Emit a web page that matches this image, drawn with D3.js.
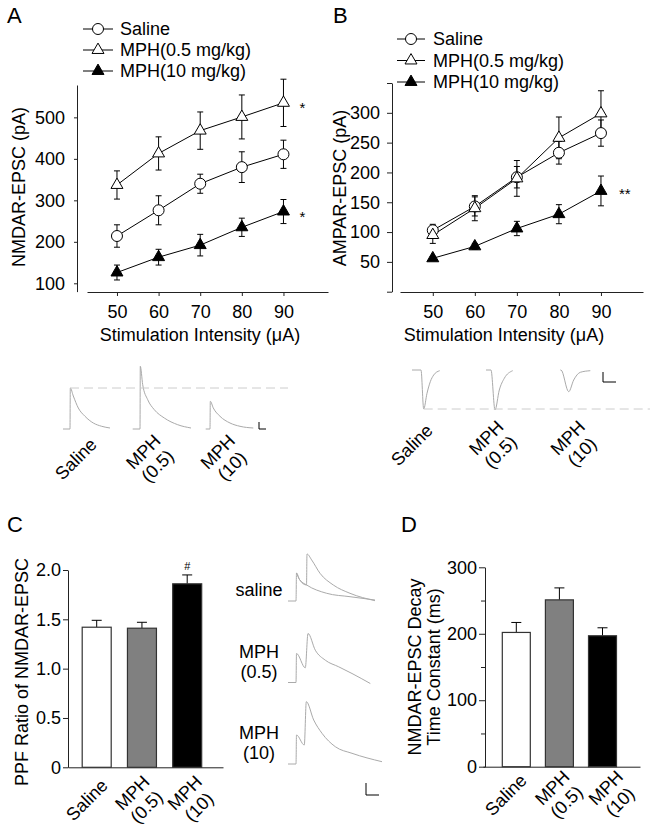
<!DOCTYPE html>
<html lang="en">
<head>
<meta charset="UTF-8">
<title>NMDAR and AMPAR EPSC</title>
<script src="https://d3js.org/d3.v7.min.js"></script>
<style>
  body { margin: 0; background: #fff; }
  svg { display: block; }
  text { font-family: "Liberation Sans", Arial, sans-serif; font-size: 18px; fill: #000; }
  .axis path, .axis line { stroke: #222; stroke-width: 1px; }
  .axis text { font-size: 18px; font-family: "Liberation Sans", Arial, sans-serif; }
  .trace { fill: none; stroke: #aaa; stroke-width: 1px; }
  .letter { font-size: 22px; }
</style>
</head>
<body>
<svg width="650" height="828"></svg>
<script>
// ---- data ----
var intensities = [50, 60, 70, 80, 90];
var groupNames = ["Saline", "MPH(0.5 mg/kg)", "MPH(10 mg/kg)"];

var nmdaSaline = [214, 276, 340, 380, 411];
var nmdaSalineErr = [27, 35, 23, 37, 34];
var nmdaLow = [337, 413, 468, 501, 535];
var nmdaLowErr = [34, 40, 45, 53, 57];
var nmdaHigh = [126, 163, 192, 235, 273];
var nmdaHighErr = [18, 19, 26, 22, 29];
var nmdaTicks = [100, 200, 300, 400, 500];

var ampaSaline = [103, 143, 192, 233, 266];
var ampaSalineErr = [10, 16, 18, 19, 22];
var ampaLow = [95, 140, 190, 258, 299];
var ampaLowErr = [14, 21, 30, 35, 38];
var ampaHigh = [56, 76, 106, 130, 169];
var ampaHighErr = [3, 5, 12, 16, 25];
var ampaTicks = [0, 50, 100, 150, 200, 250, 300, 350];

var barGroups = ["Saline", "MPH\n(0.5)", "MPH\n(10)"];
var ppf = [1.42, 1.41, 1.86];
var ppfErr = [0.07, 0.06, 0.09];
var ppfTicks = [0, 0.5, 1.0, 1.5, 2.0];
var decayTau = [202, 251, 197];
var decayErr = [15, 18, 12];
var decayMajor = [0, 100, 200, 300];
var decayMinor = [50, 150, 250];

// example traces, [time ms, current pA], time 0 = stimulus
var nmdaTraceSaline = [[-70, 0], [0, 0], [3, 410], [33, 330], [83, 210], [150, 127], [233, 60], [317, 27], [400, 10]];
var nmdaTraceLow = [[-73, 0], [0, 0], [3, 627], [27, 443], [77, 293], [143, 193], [243, 110], [377, 43], [510, 10]];
var nmdaTraceHigh = [[-43, 0], [0, 0], [3, 277], [33, 210], [100, 127], [200, 60], [300, 27], [433, 10]];
var nmdaScaleBar = [70, 70];

var ampaTraceSaline = [[-90, 0], [0, 0], [27, -390], [60, -233], [93, -117], [127, -50], [187, -7]];
var ampaTraceLow = [[-50, 0], [0, 0], [40, -400], [83, -200], [133, -83], [217, -7]];
var ampaTraceHigh = [[-7, 0], [0, 0], [77, -217], [127, -100], [193, -23], [293, -7]];
var ampaScaleBar = [130, 100];

var ppfTraceSaline = [[-80, 0], [0, 0], [5, 280], [35, 215], [105, 160], [110, 470], [157, 410], [240, 277], [373, 160], [540, 77], [790, 3]];
var ppfTraceSalineSingle = [[5, 280], [35, 215], [107, 160], [307, 77], [540, 43], [790, 10]];
var ppfTraceLow = [[-80, 0], [0, 0], [5, 290], [93, 147], [120, 490], [193, 323], [293, 223], [427, 157], [560, 90], [743, -10]];
var ppfTraceHigh = [[-80, 0], [0, 0], [5, 290], [83, 190], [103, 623], [177, 440], [260, 307], [393, 173], [560, 107], [860, 23]];
var ppfTraceNames = ["saline", "MPH\n(0.5)", "MPH\n(10)"];
var ppfScaleBar = [130, 120];

var markerKinds = ["circle", "open", "filled"];
var barFills = ["#fff", "#808080", "#000"];

var svg = d3.select("svg");

// ---- helpers ----
function marker(sel, kind) {
  if (kind === "circle") {
    sel.append("circle").attr("r", 5.5).attr("fill", "#fff").attr("stroke", "#000");
  } else {
    sel.append("path")
      .attr("d", d3.symbol().type(d3.symbolTriangle).size(62))
      .attr("fill", kind === "filled" ? "#000" : "#fff")
      .attr("stroke", "#000");
  }
}

function linePanel(x, y, means, errs) {
  var series = means.map(function (m, k) {
    return intensities.map(function (v, i) { return { x: v, m: m[i], e: errs[k][i] }; });
  });
  var g = svg.append("g");
  series.forEach(function (pts) {
    g.append("path").datum(pts)
      .attr("fill", "none").attr("stroke", "#000")
      .attr("d", d3.line().x(d => x(d.x)).y(d => y(d.m)));
    var eb = g.append("g").attr("stroke", "#000").selectAll("g").data(pts).join("g");
    eb.append("line").attr("x1", d => x(d.x)).attr("x2", d => x(d.x))
      .attr("y1", d => y(d.m - d.e)).attr("y2", d => y(d.m + d.e));
    [-1, 1].forEach(function (s) {
      eb.append("line").attr("x1", d => x(d.x) - 3).attr("x2", d => x(d.x) + 3)
        .attr("y1", d => y(d.m + s * d.e)).attr("y2", d => y(d.m + s * d.e));
    });
  });
  series.forEach(function (pts, k) {
    g.append("g").selectAll("g").data(pts).join("g")
      .attr("transform", d => "translate(" + x(d.x) + "," + y(d.m) + ")")
      .each(function () { marker(d3.select(this), markerKinds[k]); });
  });
}

function legend(x0, x1, tx, rows) {
  groupNames.forEach(function (name, k) {
    var yy = rows(name);
    svg.append("line").attr("x1", x0).attr("x2", x1).attr("y1", yy).attr("y2", yy).attr("stroke", "#000");
    var g = svg.append("g").attr("transform", "translate(" + (x0 + x1) / 2 + "," + yy + ")");
    marker(g, markerKinds[k]);
    svg.append("text").attr("x", tx).attr("y", yy).attr("dy", "0.36em").text(name);
  });
}

function rotLabel(x, y, label) {
  var lines = label.split("\n");
  var t = svg.append("text").attr("text-anchor", "middle")
    .attr("transform", "translate(" + x + "," + y + ") rotate(-45)");
  lines.forEach(function (l, i) {
    t.append("tspan").attr("x", 0).attr("y", (i - (lines.length - 1) / 2) * 20 + 6).text(l);
  });
}

function trace(data, t, a, color) {
  svg.append("path").datum(data).attr("class", "trace").attr("stroke", color || "#aaa")
    .attr("d", d3.line().x(d => t(d[0])).y(d => a(d[1])).curve(d3.curveMonotoneX));
}

function scaleBar(t, a, len) {
  var t0 = t.domain()[0], a0 = a.domain()[0];
  svg.append("path").attr("fill", "none").attr("stroke", "#000")
    .attr("d", "M" + t(t0) + "," + a(a0 + len[1]) + "V" + a(a0) + "H" + t(t0 + len[0]));
}

function yTitle(x, y, lines) {
  var t = svg.append("text").attr("text-anchor", "middle")
    .attr("transform", "translate(" + x + "," + y + ") rotate(-90)");
  lines.forEach(function (l, i) {
    t.append("tspan").attr("x", 0).attr("y", (i - (lines.length - 1) / 2) * 19 + 6).text(l);
  });
}

// ---- panel A ----
var xA = d3.scaleLinear().domain([42.8, 100.7]).range([87, 328]);
var yA = d3.scaleLinear().domain([80, 578]).range([291.6, 85]);
svg.append("g").attr("class", "axis").attr("transform", "translate(77,0)")
  .call(d3.axisLeft(yA).tickValues(nmdaTicks).tickSize(3).tickPadding(9).tickSizeOuter(0));
svg.append("g").attr("class", "axis").attr("transform", "translate(0,292)")
  .call(d3.axisBottom(xA).tickValues(intensities).tickSize(4).tickPadding(9).tickSizeOuter(0));
linePanel(xA, yA, [nmdaSaline, nmdaLow, nmdaHigh], [nmdaSalineErr, nmdaLowErr, nmdaHighErr]);
legend(83, 113, 120, d3.scalePoint().domain(groupNames).range([29, 71]));
svg.append("text").attr("x", xA(90) + 16).attr("y", yA(nmdaLow[4]) + 10).style("font-size", "15px").text("*");
svg.append("text").attr("x", xA(90) + 16).attr("y", yA(nmdaHigh[4]) + 10).style("font-size", "15px").text("*");
yTitle(19, 187, ["NMDAR-EPSC (pA)"]);
svg.append("text").attr("x", 200).attr("y", 341).attr("text-anchor", "middle").text("Stimulation Intensity (\u03bcA)");
svg.append("text").attr("class", "letter").attr("x", 7).attr("y", 23).text("A");

// panel A traces
var riseA = d3.scalePoint().domain(barGroups).range([70, 210]);
var ampA = d3.scaleLinear().domain([0, 1000]).range([429, 329]);
[nmdaTraceSaline, nmdaTraceLow, nmdaTraceHigh].forEach(function (tr, i) {
  var r = riseA(barGroups[i]);
  trace(tr, d3.scaleLinear().domain([0, 1000]).range([r, r + 100]), ampA);
});
svg.append("line").attr("x1", riseA(barGroups[0])).attr("x2", 288)
  .attr("y1", ampA(nmdaTraceSaline[2][1])).attr("y2", ampA(nmdaTraceSaline[2][1]))
  .attr("stroke", "#ccc").attr("stroke-dasharray", "9,5");
scaleBar(d3.scaleLinear().domain([0, 1000]).range([259, 359]), ampA, nmdaScaleBar);
var labA = d3.scalePoint().domain(barGroups).range([76, 225]);
barGroups.forEach(function (g) { rotLabel(labA(g), 459, g); });

// ---- panel B ----
var xB = d3.scaleLinear().domain([42.2, 100]).range([400, 643]);
var yB = d3.scaleLinear().domain([0, 350]).range([291.7, 83]);
svg.append("g").attr("class", "axis").attr("transform", "translate(392,0)")
  .call(d3.axisLeft(yB).tickValues(ampaTicks).tickSize(5).tickPadding(7).tickSizeOuter(0)
    .tickFormat(d => (d === 0 || d === 350) ? "" : d));
svg.append("g").attr("class", "axis").attr("transform", "translate(0,292)")
  .call(d3.axisBottom(xB).tickValues(intensities).tickSize(4).tickPadding(9).tickSizeOuter(0));
linePanel(xB, yB, [ampaSaline, ampaLow, ampaHigh], [ampaSalineErr, ampaLowErr, ampaHighErr]);
legend(397, 425, 433, d3.scalePoint().domain(groupNames).range([39, 82]));
svg.append("text").attr("x", xB(90) + 18).attr("y", yB(ampaHigh[4]) + 8).style("font-size", "15px").text("**");
yTitle(340, 188, ["AMPAR-EPSC (pA)"]);
svg.append("text").attr("x", 504).attr("y", 341).attr("text-anchor", "middle").text("Stimulation Intensity (\u03bcA)");
svg.append("text").attr("class", "letter").attr("x", 333).attr("y", 23).text("B");

// panel B traces
var riseB = d3.scalePoint().domain(barGroups).range([421, 561]);
var ampB = d3.scaleLinear().domain([0, 1000]).range([370, 270]);
[ampaTraceSaline, ampaTraceLow, ampaTraceHigh].forEach(function (tr, i) {
  var r = riseB(barGroups[i]);
  trace(tr, d3.scaleLinear().domain([0, 1000]).range([r, r + 100]), ampB, "#b5b5b5");
});
var minB = ampaTraceSaline[2];
svg.append("line").attr("x1", riseB(barGroups[0]) + minB[0] / 10).attr("x2", 650)
  .attr("y1", ampB(minB[1])).attr("y2", ampB(minB[1]))
  .attr("stroke", "#ccc").attr("stroke-dasharray", "9,5");
var ampBbar = d3.scaleLinear().domain([0, 1000]).range([382, 282]);
scaleBar(d3.scaleLinear().domain([0, 1000]).range([603, 703]), ampBbar, ampaScaleBar);
var labB = d3.scalePoint().domain(barGroups).range([412, 575]);
barGroups.forEach(function (g) { rotLabel(labB(g), 445, g); });

// ---- panel C ----
var yC = d3.scaleLinear().domain([0, 2]).range([767.3, 570]);
var xC = d3.scalePoint().domain(barGroups).range([96.7, 187.2]);
svg.append("g").attr("class", "axis").attr("transform", "translate(68,0)")
  .call(d3.axisLeft(yC).tickValues(ppfTicks).tickSize(5).tickPadding(2).tickSizeOuter(0)
    .tickFormat(d => d === 0 ? "0" : d3.format(".1f")(d)));
svg.append("g").attr("class", "axis").attr("transform", "translate(0,767.3)")
  .call(d3.axisBottom(d3.scaleLinear().range([68, 223])).tickValues([]).tickSizeOuter(0));

function bars(x, y, vals, errs, bw) {
  var g = svg.append("g");
  g.selectAll("line.err").data(vals).join("line").attr("stroke", "#000")
    .attr("x1", (d, i) => x(barGroups[i])).attr("x2", (d, i) => x(barGroups[i]))
    .attr("y1", d => y(d)).attr("y2", (d, i) => y(d + errs[i]));
  g.selectAll("line.cap").data(vals).join("line").attr("stroke", "#000")
    .attr("x1", (d, i) => x(barGroups[i]) - 5).attr("x2", (d, i) => x(barGroups[i]) + 5)
    .attr("y1", (d, i) => y(d + errs[i])).attr("y2", (d, i) => y(d + errs[i]));
  g.selectAll("rect").data(vals).join("rect")
    .attr("x", (d, i) => x(barGroups[i]) - bw / 2).attr("width", bw)
    .attr("y", d => y(d)).attr("height", d => y(0) - y(d))
    .attr("fill", (d, i) => barFills[i]).attr("stroke", "#333").attr("stroke-width", 1.2);
}
bars(xC, yC, ppf, ppfErr, 29);
svg.append("text").attr("x", xC(barGroups[2])).attr("y", yC(ppf[2] + ppfErr[2]) - 5)
  .attr("text-anchor", "middle").style("font-size", "11px").text("#");
yTitle(22, 672, ["PPF Ratio of NMDAR-EPSC"]);
var labC = d3.scalePoint().domain(barGroups).range([87, 192]);
barGroups.forEach(function (g) { rotLabel(labC(g), 800, g); });
svg.append("text").attr("class", "letter").attr("x", 7).attr("y", 532).text("C");

// panel C traces
var rowC = d3.scalePoint().domain(ppfTraceNames).range([601, 764]);
var tC = d3.scaleLinear().domain([0, 1000]).range([296, 396]);
[ppfTraceSaline, ppfTraceLow, ppfTraceHigh].forEach(function (tr, i) {
  var b = rowC(ppfTraceNames[i]);
  var a = d3.scaleLinear().domain([0, 1000]).range([b, b - 100]);
  if (i === 0) trace(ppfTraceSalineSingle, tC, a, "#ddd");
  trace(tr, tC, a, "#999");
  var lines = ppfTraceNames[i].split("\n");
  lines.forEach(function (l, j) {
    svg.append("text").attr("x", 259).attr("y", b - 5 - (lines.length - 1 - j) * 20)
      .attr("text-anchor", "middle").text(l);
  });
});
scaleBar(d3.scaleLinear().domain([0, 1000]).range([366, 466]),
  d3.scaleLinear().domain([0, 1000]).range([795, 695]), ppfScaleBar);

// ---- panel D ----
var yD = d3.scaleLinear().domain([0, 300]).range([766.7, 567.3]);
var xD = d3.scalePoint().domain(barGroups).range([516.3, 602.5]);
svg.append("g").attr("class", "axis").attr("transform", "translate(485,0)")
  .call(d3.axisLeft(yD).tickValues(decayMajor).tickSize(6).tickPadding(2).tickSizeOuter(0));
svg.append("g").attr("class", "axis").attr("transform", "translate(485,0)")
  .call(d3.axisLeft(yD).tickValues(decayMinor).tickSize(4).tickFormat("").tickSizeOuter(0));
svg.append("g").attr("class", "axis").attr("transform", "translate(0,766.7)")
  .call(d3.axisBottom(d3.scaleLinear().range([483, 640])).tickValues([]).tickSizeOuter(0));
bars(xD, yD, decayTau, decayErr, 28);
yTitle(424, 667, ["NMDAR-EPSC Decay", "Time Constant (ms)"]);
var labD = d3.scalePoint().domain(barGroups).range([506, 613]);
barGroups.forEach(function (g) { rotLabel(labD(g), 795, g); });
svg.append("text").attr("class", "letter").attr("x", 401).attr("y", 532).text("D");
</script>
</body>
</html>
